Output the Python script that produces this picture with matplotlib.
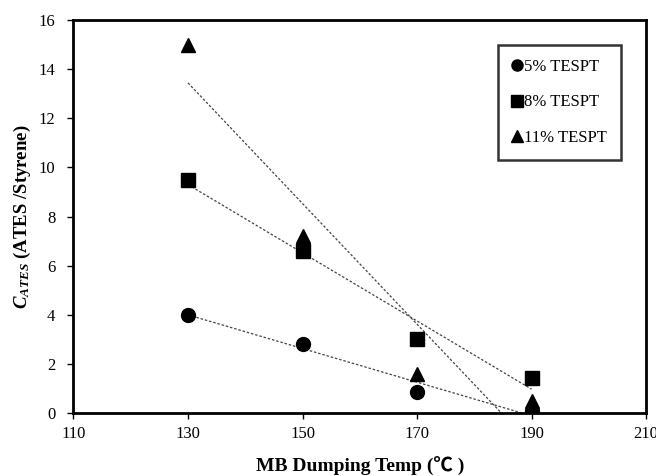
import numpy as np
import matplotlib.pyplot as plt

temps = [130, 150, 170, 190]
c_5 = [4.0, 2.82, 0.88, 0.08]
c_8 = [9.5, 6.6, 3.0, 1.45]
c_11 = [15.0, 7.2, 1.6, 0.5]

series = [
    ("5% TESPT", c_5, "o"),
    ("8% TESPT", c_8, "s"),
    ("11% TESPT", c_11, "^"),
]

plt.rcParams["font.family"] = ["Liberation Serif", "Noto Sans CJK SC"]
plt.rcParams["mathtext.fontset"] = "custom"
plt.rcParams["mathtext.it"] = "Liberation Serif:italic:bold"
plt.rcParams["mathtext.rm"] = "Liberation Serif:bold"


def main():
    fig = plt.figure(figsize=(6.56, 4.76), dpi=100)
    ax = fig.add_axes([0.112, 0.132, 0.873, 0.826])

    x = np.array(temps, dtype=float)
    xs = np.array([130, 190], dtype=float)
    for label, vals, marker in series:
        ax.plot(temps, vals, linestyle="none", marker=marker, markersize=10,
                color="black", label=label)
        # linear trendline through each series
        k, b = np.polyfit(x, np.array(vals), 1)
        ax.plot(xs, k * xs + b, linestyle=(0, (2, 1.5)), color="#444444",
                linewidth=0.9, zorder=1)

    ax.set_xlim(110, 210)
    ax.set_ylim(0, 16)
    ax.set_xticks(np.arange(110, 211, 20))
    ax.set_yticks(np.arange(0, 17, 2))
    ax.tick_params(labelsize=12, direction="out", length=4, width=1)
    ax.tick_params(axis="y", pad=9)
    ax.tick_params(axis="x", pad=5)
    for s in ax.spines.values():
        s.set_linewidth(2)
        s.set_color("black")

    ax.set_xlabel("MB Dumping Temp (℃ )", fontsize=14, fontweight="bold",
                  labelpad=11)
    ax.set_ylabel("$C_{ATES}$ (ATES /Styrene)", fontsize=13.5,
                  fontweight="bold", labelpad=4)

    leg = ax.legend(loc="upper right", bbox_to_anchor=(0.956, 0.936),
                    frameon=True, fancybox=False, edgecolor="black",
                    fontsize=12, markerscale=0.8, handlelength=0.6,
                    handletextpad=0.1, labelspacing=1.15, borderpad=0.85,
                    borderaxespad=0)
    leg.get_frame().set_linewidth(1.8)

    fig.savefig("out.png", dpi=100)


if __name__ == "__main__":
    main()
